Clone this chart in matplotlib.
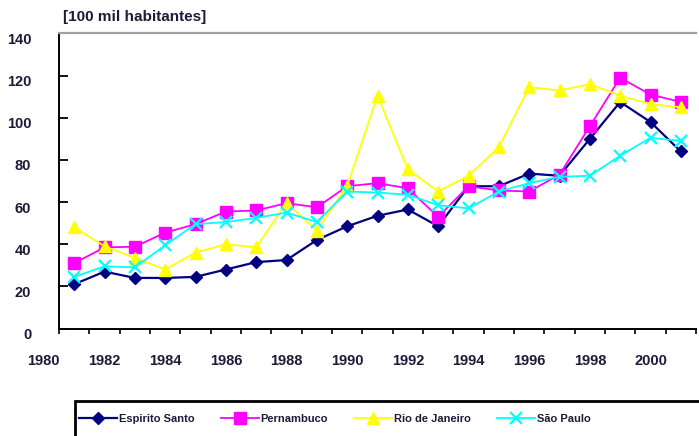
import matplotlib.pyplot as plt
import matplotlib.transforms as mtransforms
from matplotlib.patches import Rectangle

plt.rcParams['font.family'] = ['Liberation Sans', 'DejaVu Sans']

# Anos (um ponto por ano) e populações em centenas de milhares
anos = list(range(1981, 2002))
rotulos_anos = [1980, 1982, 1984, 1986, 1988, 1990, 1992, 1994, 1996, 1998, 2000]

espirito_santo = [21, 27, 24, 24, 24.5, 28, 31.5, 32.5, 42, 48.5, 53.5, 56.5, 48.5,
                  67.5, 67.5, 73.5, 72.5, 90, 107.5, 98, 84]
pernambuco = [31, 38.5, 38.8, 45.5, 49.5, 55.5, 56, 59.5, 57.5, 67.5, 69, 66.5, 53,
              67.5, 65.5, 65, 73, 96, 119, 111, 107.5]
rio_de_janeiro = [48, 39, 33.5, 28, 36, 40, 38.5, 59.5, 46.5, 67.5, 110.5, 75.5, 65,
                  72.5, 86, 114.5, 113, 116, 110.5, 106.5, 105]
sao_paulo = [24.5, 29.5, 29, 39.5, 49.5, 50.5, 52.5, 55, 50.5, 65, 64.5, 63.5, 58.5,
             57, 65, 69, 72, 72.5, 82, 90.5, 89]

cor_texto = '#1b1b3a'

fig = plt.figure(figsize=(6.99, 4.36), dpi=100)
ax = fig.add_axes([59 / 699, 1 - 328.5 / 436, (696 - 59) / 699, 295 / 436])

ax.plot(anos, espirito_santo, color='#000080', lw=1.6, marker='D', ms=5.8,
        label='Espirito Santo')
ax.plot(anos, pernambuco, color='#FF00FF', lw=1.3, marker='s', ms=8,
        label='Pernambuco')
ax.plot(anos, rio_de_janeiro, color='#FFFF00', lw=1.3, marker='^', ms=8.5,
        label='Rio de Janeiro')
ax.plot(anos, sao_paulo, color='#00FFFF', lw=1.3, marker='x', ms=8, mew=1.6,
        label='São Paulo')

ax.set_xlim(1980.5, 2001.5)
ax.set_ylim(0, 140)
ax.set_yticks(range(0, 141, 20))
ax.set_xticks([a + 0.5 for a in range(1980, 2002)])
ax.set_xticklabels([])

ax.spines['right'].set_visible(False)
ax.spines['top'].set_color('#a0a0a0')
ax.spines['top'].set_linewidth(1.6)
ax.spines['left'].set_linewidth(1.4)
ax.spines['bottom'].set_linewidth(1.4)

ax.tick_params(axis='y', direction='in', length=6.5, width=1.3, pad=20,
               labelsize=10.5, labelcolor=cor_texto)
ax.tick_params(axis='x', direction='out', length=3.5, width=1.2)
for lbl in ax.get_yticklabels():
    lbl.set_fontweight('bold')
    lbl.set_transform(lbl.get_transform() +
                      mtransforms.ScaledTranslation(0, -5 / 100, fig.dpi_scale_trans))

# Rótulos dos anos pares, abaixo do eixo
trans_x = mtransforms.blended_transform_factory(ax.transData, fig.transFigure)
for ano in rotulos_anos:
    ax.text(ano, 1 - 361 / 436, str(ano), transform=trans_x, ha='center', va='center',
            fontsize=10.5, fontweight='bold', color=cor_texto, clip_on=False)

fig.text(63 / 699, 1 - 17 / 436, '[100 mil habitantes]', ha='left', va='center',
         fontsize=11, fontweight='bold', color=cor_texto)

# Legenda em caixa na parte de baixo
fig.add_artist(Rectangle((75 / 699, -0.05), 1.0, (436 - 401) / 436 + 0.05,
                         transform=fig.transFigure, fill=False, ec='black', lw=2))
fig.legend(loc='center left', bbox_to_anchor=(79 / 699, 1 - 419 / 436), ncol=4,
           frameon=False, prop={'weight': 'bold', 'size': 8},
           handlelength=3.4, handletextpad=0.2, columnspacing=2.35,
           borderpad=0, borderaxespad=0, labelcolor=cor_texto)

fig.savefig('out.png', dpi=100)
